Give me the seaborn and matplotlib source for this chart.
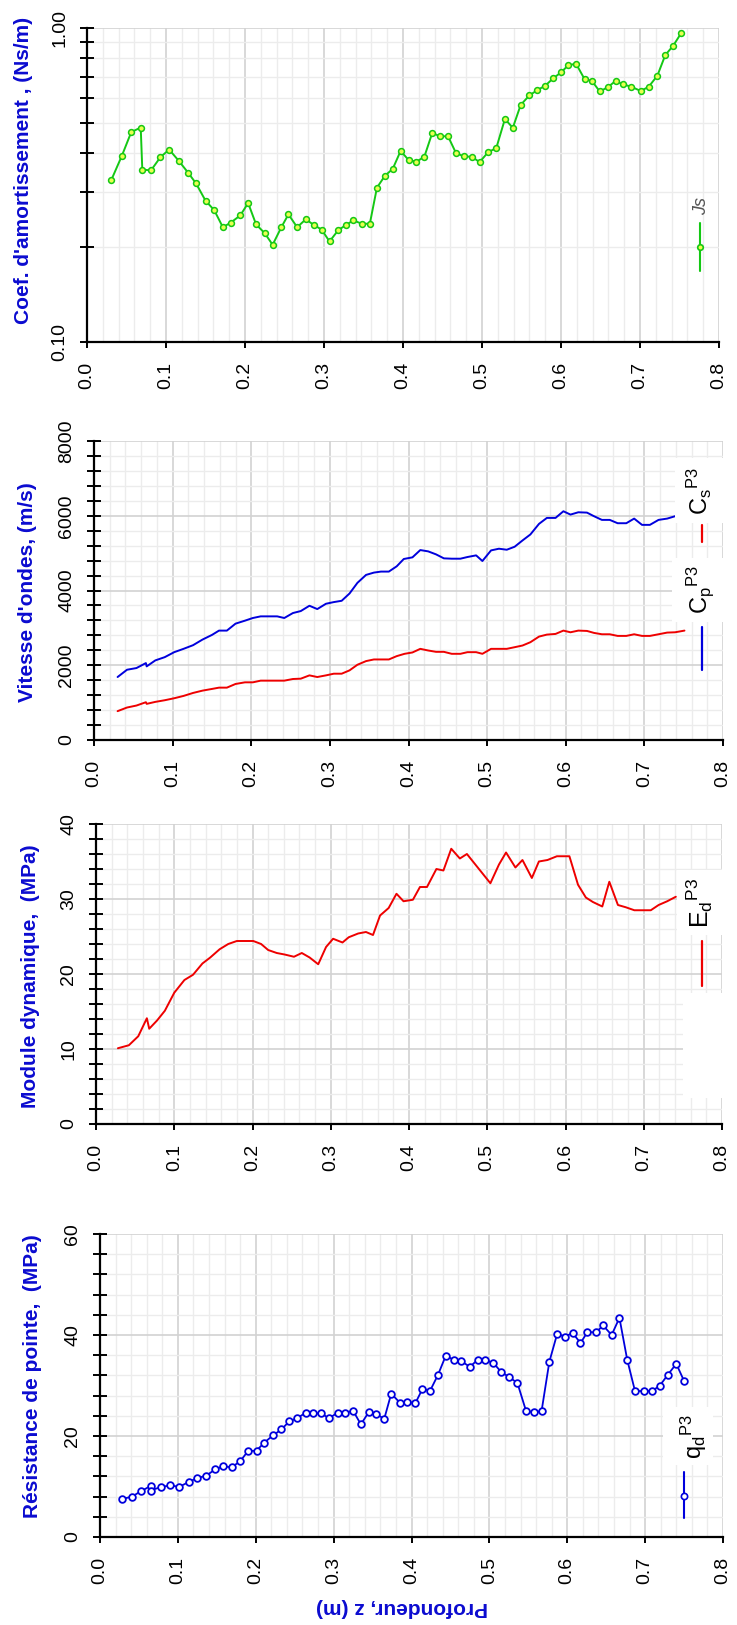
import matplotlib
matplotlib.use("Agg")
import matplotlib.pyplot as plt
import seaborn as sns
import pandas as pd
from matplotlib.lines import Line2D
from matplotlib.patches import Rectangle
from matplotlib.ticker import MultipleLocator, FixedLocator, FormatStrFormatter, NullFormatter

# ---------------- data: profile P3 ----------------
depth_js = [0.031, 0.044, 0.056, 0.068, 0.070, 0.081, 0.093, 0.104, 0.116, 0.128, 0.138, 0.150,
            0.161, 0.172, 0.182, 0.194, 0.204, 0.214, 0.225, 0.235, 0.246, 0.255, 0.266, 0.277,
            0.287, 0.297, 0.307, 0.318, 0.328, 0.337, 0.348, 0.358, 0.367, 0.377, 0.387, 0.397,
            0.407, 0.417, 0.427, 0.437, 0.447, 0.457, 0.467, 0.477, 0.487, 0.497, 0.508, 0.518,
            0.529, 0.539, 0.549, 0.560, 0.570, 0.580, 0.590, 0.600, 0.609, 0.619, 0.630, 0.639,
            0.649, 0.659, 0.669, 0.679, 0.689, 0.701, 0.711, 0.722, 0.732, 0.742, 0.752]
js = [0.329, 0.391, 0.466, 0.482, 0.354, 0.352, 0.388, 0.410, 0.378, 0.346, 0.320, 0.282,
      0.263, 0.232, 0.240, 0.253, 0.277, 0.237, 0.222, 0.204, 0.232, 0.255, 0.232, 0.246,
      0.236, 0.228, 0.209, 0.227, 0.236, 0.244, 0.238, 0.238, 0.310, 0.338, 0.356, 0.406,
      0.380, 0.375, 0.389, 0.463, 0.452, 0.452, 0.400, 0.390, 0.389, 0.374, 0.403, 0.414,
      0.513, 0.481, 0.569, 0.610, 0.634, 0.655, 0.691, 0.722, 0.760, 0.770, 0.686, 0.679,
      0.628, 0.647, 0.678, 0.661, 0.650, 0.630, 0.650, 0.705, 0.820, 0.878, 0.962]

depth_cp = [0.030, 0.042, 0.054, 0.066, 0.067, 0.078, 0.090, 0.102, 0.114, 0.126, 0.138, 0.150,
            0.159, 0.169, 0.180, 0.192, 0.202, 0.212, 0.233, 0.242, 0.253, 0.263, 0.274, 0.284,
            0.295, 0.305, 0.315, 0.325, 0.335, 0.346, 0.356, 0.365, 0.375, 0.385, 0.394, 0.405,
            0.415, 0.425, 0.435, 0.445, 0.455, 0.466, 0.475, 0.486, 0.494, 0.505, 0.515, 0.525,
            0.535, 0.545, 0.555, 0.566, 0.576, 0.587, 0.597, 0.606, 0.616, 0.627, 0.636, 0.646,
            0.656, 0.666, 0.677, 0.687, 0.697, 0.707, 0.718, 0.729, 0.739]
cp = [1685, 1880, 1925, 2058, 1970, 2130, 2217, 2350, 2440, 2537, 2687, 2811,
      2927, 2927, 3113, 3193, 3264, 3308, 3308, 3264, 3397, 3450, 3592, 3503,
      3645, 3690, 3725, 3920, 4204, 4417, 4479, 4506, 4506, 4647, 4843, 4887,
      5082, 5047, 4967, 4860, 4851, 4851, 4896, 4940, 4789, 5073, 5118, 5091,
      5171, 5339, 5499, 5783, 5942, 5942, 6120, 6031, 6093, 6084, 5987, 5889,
      5889, 5800, 5800, 5924, 5756, 5756, 5889, 5924, 5987]

depth_cs = [0.030, 0.042, 0.054, 0.066, 0.067, 0.078, 0.090, 0.102, 0.114, 0.126, 0.138, 0.150,
            0.159, 0.169, 0.180, 0.192, 0.202, 0.212, 0.242, 0.253, 0.263, 0.274, 0.284, 0.295,
            0.305, 0.315, 0.325, 0.335, 0.346, 0.356, 0.375, 0.385, 0.395, 0.405, 0.415, 0.425,
            0.435, 0.445, 0.455, 0.466, 0.475, 0.486, 0.494, 0.505, 0.525, 0.535, 0.545, 0.555,
            0.566, 0.576, 0.587, 0.597, 0.606, 0.616, 0.627, 0.636, 0.646, 0.656, 0.666, 0.677,
            0.687, 0.697, 0.707, 0.718, 0.729, 0.739, 0.751]
cs = [772, 869, 922, 1011, 967, 1020, 1064, 1117, 1180, 1259, 1321, 1366,
      1401, 1401, 1499, 1543, 1543, 1588, 1588, 1632, 1641, 1729, 1685, 1729,
      1774, 1774, 1863, 2013, 2111, 2155, 2155, 2244, 2306, 2342, 2439, 2395,
      2359, 2359, 2306, 2306, 2350, 2350, 2306, 2439, 2439, 2483, 2528, 2616,
      2767, 2820, 2838, 2927, 2882, 2927, 2918, 2865, 2829, 2829, 2785, 2785,
      2829, 2785, 2785, 2829, 2874, 2882, 2927]

depth_ed = [0.028, 0.042, 0.054, 0.065, 0.068, 0.078, 0.088, 0.100, 0.113, 0.124, 0.136, 0.146,
            0.158, 0.169, 0.180, 0.189, 0.201, 0.211, 0.220, 0.231, 0.241, 0.253, 0.263, 0.273,
            0.284, 0.294, 0.303, 0.315, 0.323, 0.335, 0.345, 0.354, 0.363, 0.374, 0.384, 0.393,
            0.405, 0.414, 0.423, 0.435, 0.444, 0.454, 0.465, 0.474, 0.504, 0.515, 0.524, 0.536,
            0.545, 0.557, 0.566, 0.577, 0.589, 0.605, 0.616, 0.626, 0.635, 0.647, 0.656, 0.667,
            0.677, 0.688, 0.698, 0.709, 0.719, 0.730, 0.741]
ed = [10.1, 10.5, 11.7, 14.1, 12.7, 13.8, 15.1, 17.5, 19.2, 19.9, 21.4, 22.2,
      23.3, 24.0, 24.4, 24.4, 24.4, 24.0, 23.2, 22.8, 22.6, 22.3, 22.8, 22.2,
      21.3, 23.6, 24.7, 24.2, 24.9, 25.4, 25.6, 25.2, 27.8, 28.8, 30.7, 29.7,
      29.9, 31.6, 31.6, 34.0, 33.8, 36.7, 35.4, 36.0, 32.1, 34.6, 36.2, 34.2,
      35.2, 32.8, 35.0, 35.2, 35.7, 35.7, 31.9, 30.2, 29.6, 29.0, 32.3, 29.2,
      28.9, 28.5, 28.5, 28.5, 29.2, 29.7, 30.3]

depth_qd = [0.028, 0.041, 0.053, 0.065, 0.065, 0.078, 0.090, 0.102, 0.114, 0.125, 0.136, 0.148,
            0.158, 0.169, 0.180, 0.190, 0.201, 0.211, 0.222, 0.233, 0.243, 0.253, 0.264, 0.274,
            0.284, 0.294, 0.305, 0.315, 0.325, 0.335, 0.345, 0.355, 0.365, 0.374, 0.385, 0.394,
            0.405, 0.414, 0.424, 0.434, 0.444, 0.454, 0.464, 0.475, 0.485, 0.495, 0.505, 0.515,
            0.525, 0.536, 0.547, 0.557, 0.567, 0.577, 0.587, 0.597, 0.607, 0.617, 0.626, 0.637,
            0.646, 0.657, 0.667, 0.677, 0.687, 0.698, 0.709, 0.719, 0.729, 0.740, 0.750]
qd = [7.5, 8.0, 9.1, 10.1, 9.2, 9.9, 10.2, 9.95, 10.9, 11.7, 12.1, 13.4,
      14.0, 13.8, 15.0, 17.0, 17.1, 18.7, 20.1, 21.3, 22.9, 23.5, 24.6, 24.5,
      24.5, 23.5, 24.6, 24.6, 25.0, 22.3, 24.7, 24.3, 23.4, 28.4, 26.6, 26.8,
      26.5, 29.3, 29.0, 32.1, 35.9, 35.1, 34.8, 33.7, 35.1, 35.0, 34.5, 32.7,
      31.7, 30.5, 25.0, 24.7, 24.9, 34.7, 40.2, 39.7, 40.4, 38.4, 40.6, 40.5,
      41.9, 40.0, 43.4, 35.1, 28.9, 28.9, 28.9, 30.0, 32.1, 34.3, 30.9]

x_ticks = [0.0, 0.1, 0.2, 0.3, 0.4, 0.5, 0.6, 0.7, 0.8]

# ---------------- style ----------------
sns.set_theme(style="white")
plt.rcParams["font.family"] = ["Liberation Sans", "DejaVu Sans"]
plt.rcParams["mathtext.fontset"] = "custom"
plt.rcParams["mathtext.rm"] = "Liberation Sans"
plt.rcParams["mathtext.it"] = "Liberation Sans:italic"
plt.rcParams["mathtext.bf"] = "Liberation Sans:bold"

W, H = 737, 1625
fig = plt.figure(figsize=(W / 100, H / 100), dpi=100)
fig.patch.set_facecolor("white")


def fx(x):
    return x / W


def fy(y):
    return 1 - y / H


def make_axes(left, right, top, bottom):
    return fig.add_axes([fx(left), fy(bottom), (right - left) / W, (bottom - top) / H])


LABEL_BLUE = "#0b0bd0"
GREEN = "#14c814"
BLUE = "#0000dd"
RED = "#ee0000"


def style_axes(ax, ymaj=None, ymin=None):
    ax.set_xlim(0, 0.8)
    ax.xaxis.set_major_locator(FixedLocator(x_ticks))
    ax.xaxis.set_major_formatter(FormatStrFormatter("%.1f"))
    ax.xaxis.set_minor_locator(MultipleLocator(0.02))
    if ymaj is not None:
        ax.yaxis.set_major_locator(MultipleLocator(ymaj))
        ax.yaxis.set_minor_locator(MultipleLocator(ymin))
    ax.set_facecolor("white")
    ax.set_axisbelow(True)
    ax.grid(which="minor", color="#ececec", lw=1.0)
    ax.grid(which="major", color="#d2d2d2", lw=1.2)
    for s in ("top", "right"):
        ax.spines[s].set_visible(False)
    for s in ("left", "bottom"):
        ax.spines[s].set_color("black")
        ax.spines[s].set_linewidth(1.6)
    ax.tick_params(axis="y", which="both", direction="inout", length=10, width=1.4,
                   color="black", left=True, labelsize=14, labelcolor="black", pad=8.5)
    ax.tick_params(axis="y", which="major", labelrotation=90)
    ax.tick_params(axis="x", which="major", direction="out", length=4, width=1.4,
                   color="black", bottom=True, labelsize=14, labelcolor="black",
                   labelrotation=90, pad=10.5)
    ax.tick_params(axis="x", which="minor", length=0)
    ax.set_xlabel("")
    ax.set_ylabel("")


# ---- panel 1: damping coefficient (log scale) ----
ax1 = make_axes(87, 719, 28, 342)
sns.lineplot(x=depth_js, y=js, ax=ax1, color=GREEN, lw=1.4, sort=False, estimator=None,
             marker="o", markersize=4.2, markerfacecolor="#eaff50", markeredgecolor=GREEN,
             markeredgewidth=1.1)
ax1.set_yscale("log")
ax1.set_ylim(0.1, 1.0)
style_axes(ax1)
ax1.yaxis.set_major_locator(FixedLocator([0.1, 1.0]))
ax1.yaxis.set_major_formatter(FormatStrFormatter("%.2f"))
ax1.yaxis.set_minor_locator(FixedLocator([0.2, 0.3, 0.4, 0.5, 0.6, 0.7, 0.8, 0.9]))
ax1.yaxis.set_minor_formatter(NullFormatter())

# ---- panel 2: wave velocities ----
ax2 = make_axes(94, 723, 441, 740)
sns.lineplot(x=depth_cp, y=cp, ax=ax2, color=BLUE, lw=1.4, sort=False, estimator=None)
sns.lineplot(x=depth_cs, y=cs, ax=ax2, color=RED, lw=1.4, sort=False, estimator=None)
ax2.set_ylim(0, 8000)
style_axes(ax2, 2000, 400)

# ---- panel 3: dynamic modulus ----
ax3 = make_axes(96, 722, 824, 1124)
sns.lineplot(x=depth_ed, y=ed, ax=ax3, color=RED, lw=1.4, sort=False, estimator=None)
ax3.set_ylim(0, 40)
style_axes(ax3, 10, 2)

# ---- panel 4: cone tip resistance ----
ax4 = make_axes(100, 723, 1234, 1537)
sns.lineplot(x=depth_qd, y=qd, ax=ax4, color=BLUE, lw=1.3, sort=False, estimator=None,
             marker="o", markersize=4.8, markerfacecolor="white", markeredgecolor=BLUE,
             markeredgewidth=1.3)
ax4.set_ylim(0, 60)
style_axes(ax4, 20, 4)

for ax in (ax1, ax2, ax3, ax4):
    for lbl in ax.get_yticklabels():
        lbl.set_verticalalignment("center")
    if ax.get_legend() is not None:
        ax.get_legend().remove()

# ---------------- axis titles ----------------
title_kw = dict(rotation=90, ha="center", va="center", color=LABEL_BLUE,
                fontsize=15, fontweight="bold")
fig.text(fx(24), fy(170), "Coef. d'amortissement , (Ns/m)", **title_kw)
fig.text(fx(28), fy(592), "Vitesse d'ondes, (m/s)", **title_kw)
fig.text(fx(31), fy(976), "Module dynamique,  (MPa)", **title_kw)
fig.text(fx(33), fy(1376), "Résistance de pointe,  (MPa)", **title_kw)
fig.text(fx(402), fy(1607), "Profondeur, z (m)", rotation=180, ha="center", va="center",
         color=LABEL_BLUE, fontsize=15, fontweight="bold")


# ---------------- legends (vertical, rotated) ----------------
def white_box(x0, y0, x1, y1):
    fig.add_artist(Rectangle((fx(x0), fy(y1)), (x1 - x0) / W, (y1 - y0) / H,
                             transform=fig.transFigure, facecolor="white",
                             edgecolor="none", zorder=1.5))


def handle(x, y0, y1, color, lw=1.6, marker_y=None, mfc="white", ms=4.5):
    fig.add_artist(Line2D([fx(x), fx(x)], [fy(y0), fy(y1)], transform=fig.transFigure,
                          color=color, lw=lw, zorder=2))
    if marker_y is not None:
        fig.add_artist(Line2D([fx(x)], [fy(marker_y)], transform=fig.transFigure,
                              color=color, marker="o", markersize=ms, markerfacecolor=mfc,
                              markeredgecolor=color, markeredgewidth=1.2, lw=0, zorder=2.5))


# panel 1
handle(700, 223, 271, GREEN, lw=1.5, marker_y=247, mfc="#eaff50", ms=4.0)
fig.text(fx(702), fy(206), "Js", rotation=90, ha="center", va="center", fontsize=13,
         color="#555555", style="italic", zorder=3)

# panel 2
white_box(675, 458, 724, 523)
white_box(672, 558, 724, 622)
handle(702, 525, 542, RED)
handle(702, 627, 670, BLUE)
fig.text(fx(699), fy(491), r"$\mathrm{C_s{}^{P3}}$", rotation=90, ha="center", va="center",
         fontsize=17, color="black", zorder=3)
fig.text(fx(700), fy(590), r"$\mathrm{C_p{}^{P3}}$", rotation=90, ha="center", va="center",
         fontsize=17, color="black", zorder=3)

# panel 3
white_box(677, 870, 723, 935)
white_box(683, 993, 723, 1098)
handle(702, 941, 986, RED)
fig.text(fx(700), fy(903), r"$\mathrm{E_d{}^{P3}}$", rotation=90, ha="center", va="center",
         fontsize=18, color="black", zorder=3)

# panel 4
white_box(663, 1407, 713, 1465)
handle(684, 1472, 1518, BLUE, lw=1.5, marker_y=1496, mfc="white", ms=4.5)
fig.text(fx(694), fy(1437), r"$\mathrm{q_d{}^{P3}}$", rotation=90, ha="center", va="center",
         fontsize=17, color="black", zorder=3)

fig.savefig("out.png", dpi=100, facecolor="white")
